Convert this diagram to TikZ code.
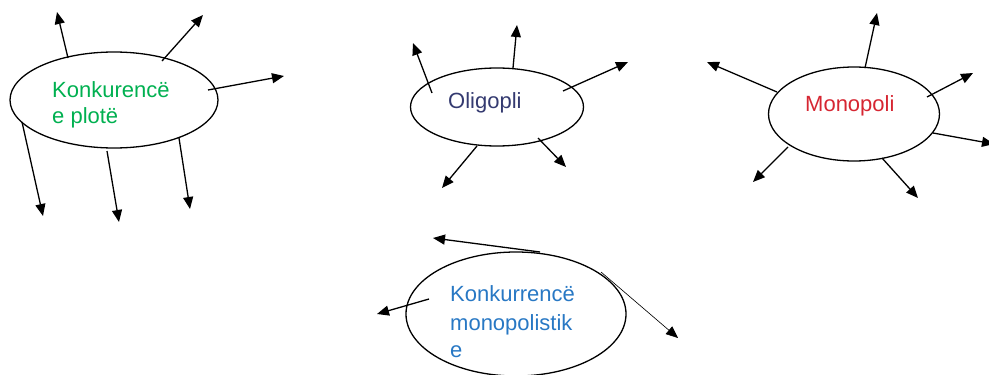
\documentclass[tikz,border=0pt]{standalone}
\usepackage{fontspec}
\setmainfont{Liberation Sans}
\usetikzlibrary{shapes.geometric,arrows.meta}
\definecolor{cgreen}{RGB}{0,176,80}
\definecolor{cslate}{RGB}{52,58,112}
\definecolor{cred}{RGB}{214,38,50}
\definecolor{cblue}{RGB}{40,120,196}
\tikzset{
  ell/.style={draw=black,line width=1.3pt,ellipse,inner sep=0pt},
  arr/.style={line width=1.3pt,-{Triangle[length=12pt,width=10pt]}},
  thinarr/.style={line width=0.6pt,-{Triangle[length=12pt,width=10pt]}},
  lbl/.style={anchor=base west,inner sep=0pt,font=\fontsize{22}{26}\selectfont}
}
\begin{document}
\begin{tikzpicture}[x=1pt,y=-1pt]
\useasboundingbox (0,0) rectangle (989,375);
% ---------- Konkurence e plote ----------
\node[ell,minimum width=208pt,minimum height=96pt] (e1) at (114,100) {};
\node[lbl,text=cgreen] (t1a) at (52,97) {Konkurencë};
\node[lbl,text=cgreen] (t1b) at (52,123) {e plotë};
\coordinate (a1s) at (68,58);   \coordinate (a1e) at (57,12);
\coordinate (a2s) at (162,61);  \coordinate (a2e) at (203,15);
\coordinate (a3s) at (208,90);  \coordinate (a3e) at (284,76);
\coordinate (a4s) at (22,122);  \coordinate (a4e) at (43,216);
\coordinate (a5s) at (107,151); \coordinate (a5e) at (119,222);
\coordinate (a6s) at (179,138); \coordinate (a6e) at (190,209);
\foreach \i in {1,...,6} \draw[arr] (a\i s) -- (a\i e);
% ---------- Oligopli ----------
\node[ell,minimum width=173pt,minimum height=78pt] (e2) at (497,107) {};
\node[lbl,text=cslate] (t2) at (448,108) {Oligopli};
\coordinate (b1s) at (432,93);  \coordinate (b1e) at (413,43);
\coordinate (b2s) at (513,68);  \coordinate (b2e) at (517,25);
\coordinate (b3s) at (563,91);  \coordinate (b3e) at (628,62);
\coordinate (b4s) at (477,146); \coordinate (b4e) at (442,188);
\coordinate (b5s) at (538,138); \coordinate (b5e) at (566,167);
\foreach \i in {1,...,5} \draw[arr] (b\i s) -- (b\i e);
% ---------- Monopoli ----------
\node[ell,minimum width=171pt,minimum height=94pt] (e3) at (854,114) {};
\node[lbl,text=cred] (t3) at (805,111) {Monopoli};
\coordinate (c1s) at (777,92);  \coordinate (c1e) at (707,62);
\coordinate (c2s) at (865,68);  \coordinate (c2e) at (877,13);
\coordinate (c3s) at (927,97);  \coordinate (c3e) at (973,73);
\coordinate (c4s) at (933,133); \coordinate (c4e) at (994,144);
\coordinate (c5s) at (788,147); \coordinate (c5e) at (753,182);
\coordinate (c6s) at (882,158); \coordinate (c6e) at (918,198);
\foreach \i in {1,...,6} \draw[arr] (c\i s) -- (c\i e);
% ---------- Konkurrence monopolistike ----------
\node[ell,minimum width=220pt,minimum height=124pt] (e4) at (516,314) {};
\node[lbl,text=cblue] (t4a) at (450,301) {Konkurrencë};
\node[lbl,text=cblue] (t4b) at (450,330) {monopolistik};
\node[lbl,text=cblue] (t4c) at (450,357) {e};
\coordinate (d1s) at (540,252); \coordinate (d1e) at (433,238);
\coordinate (d2s) at (429,299); \coordinate (d2e) at (377,314);
\coordinate (d3s) at (601,272); \coordinate (d3e) at (678,338);
\draw[arr] (d1s) -- (d1e);
\draw[arr] (d2s) -- (d2e);
\draw[thinarr] (d3s) -- (d3e);
\end{tikzpicture}
\end{document}
